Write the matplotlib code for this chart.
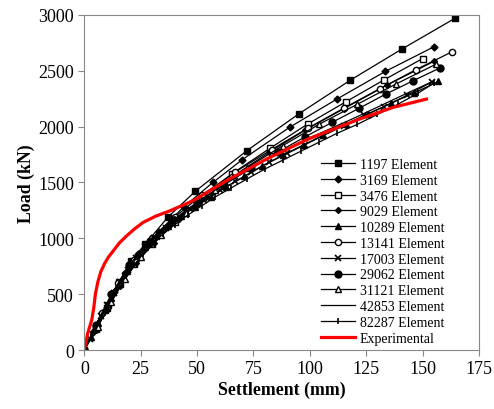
import matplotlib
matplotlib.use('Agg')
from matplotlib import pyplot as plt

plt.rcParams['font.family'] = ['Liberation Serif', 'DejaVu Serif']

# settlement (mm) / load (kN) for each mesh
x1197 = [0, 5, 10.6, 15.5, 20.7, 26.9, 37.2, 49.2, 72, 95, 118, 141, 164.5]
y1197 = [0, 200, 403, 611, 800, 946, 1193, 1421, 1784, 2113, 2417, 2697, 2972]

x3169 = [0, 4, 8, 13, 18, 24, 33, 44, 57, 70, 91, 112, 133.5, 155]
y3169 = [0, 160, 330, 520, 690, 860, 1060, 1280, 1500, 1704, 1994, 2247, 2495, 2715]

x3476 = [0, 5, 10, 16, 22, 30, 40, 52, 65.3, 82.3, 99, 116, 133, 150]
y3476 = [0, 190, 380, 590, 770, 950, 1150, 1360, 1576, 1806, 2023, 2223, 2420, 2610]

x9029 = [0, 5, 10, 16, 23, 31, 42, 54, 67, 82, 98, 115, 134, 155]
y9029 = [0, 180, 360, 570, 780, 960, 1170, 1370, 1570, 1770, 1970, 2160, 2370, 2585]

x10289 = [0, 3, 6, 9, 12, 15, 19, 23, 27, 32, 37, 43, 49, 56, 63, 71, 79, 88, 97, 106, 116, 126, 136, 146, 157]
y10289 = [0, 120, 240, 360, 470, 580, 710, 820, 920, 1020, 1110, 1200, 1280, 1370, 1460, 1555, 1650, 1745, 1835, 1925, 2020, 2115, 2210, 2300, 2405]

x13141 = [0, 8, 15, 22, 30, 40, 52, 67, 83, 99, 115, 131, 147, 163]
y13141 = [0, 330, 600, 810, 1000, 1190, 1385, 1595, 1795, 1985, 2165, 2340, 2510, 2670]

x17003 = [0, 2.5, 5, 7.5, 10, 13, 16, 19.5, 23, 27, 31, 36, 41, 47, 53, 60, 67, 74, 82, 90, 98, 106, 115, 124, 133, 143, 154]
y17003 = [0, 100, 200, 300, 400, 510, 610, 720, 820, 920, 1000, 1090, 1170, 1260, 1340, 1430, 1510, 1590, 1680, 1760, 1840, 1920, 2010, 2100, 2180, 2280, 2400]

x29062 = [0, 5, 12, 20, 29, 39, 50, 62, 74, 86, 98, 110, 121.8, 133.7, 145.8, 157.6]
y29062 = [0, 220, 500, 760, 980, 1160, 1320, 1480, 1630, 1775, 1910, 2040, 2164, 2292, 2411, 2525]

x31121 = [0, 6, 12, 18, 25, 34, 45, 58, 72, 88, 104, 121, 138, 156]
y31121 = [0, 210, 430, 640, 830, 1030, 1230, 1430, 1630, 1830, 2020, 2200, 2380, 2560]

x42853 = [0, 10, 20, 30, 45, 60, 80, 100, 120, 140, 155]
y42853 = [0, 410, 760, 1000, 1250, 1460, 1700, 1900, 2080, 2270, 2410]

x82287 = [0, 3, 6, 9, 12, 15, 18, 22, 26, 30, 35, 40, 46, 52, 58, 65, 72, 80, 88, 96, 104, 112, 121, 130, 139, 148, 155]
y82287 = [0, 120, 240, 350, 460, 560, 660, 760, 860, 950, 1040, 1120, 1210, 1290, 1370, 1450, 1530, 1620, 1700, 1780, 1860, 1940, 2020, 2110, 2200, 2300, 2390]

x_exp = [0, 1.5, 3.3, 4.2, 4.9, 6.0, 7.3, 9.0, 10.8, 12.9, 15.5, 18.8, 22.3, 26.1, 31.5, 38, 48.3, 63, 80.8, 99.2, 122, 137, 151.7]
y_exp = [0, 150, 270, 380, 500, 610, 700, 775, 835, 889, 958, 1023, 1085, 1143, 1197, 1247, 1337, 1516, 1710, 1889, 2068, 2173, 2247]

fig = plt.figure(figsize=(4.94, 4.10), dpi=100)
ax = fig.add_axes([0.1707, 0.1439, 0.7989, 0.8171])

lw = 0.9
ax.plot(x1197, y1197, 'k-', marker='s', ms=5, lw=lw, label='1197 Element')
ax.plot(x3169, y3169, 'k-', marker='D', ms=3.5, lw=lw, label='3169 Element')
ax.plot(x3476, y3476, 'k-', marker='s', ms=5, mfc='white', lw=lw, label='3476 Element')
ax.plot(x9029, y9029, 'k-', marker='D', ms=3, lw=lw, label='9029 Element')
ax.plot(x10289, y10289, 'k-', marker='^', ms=4.5, lw=lw, label='10289 Element')
ax.plot(x13141, y13141, 'k-', marker='o', ms=4.5, mfc='white', lw=lw, label='13141 Element')
ax.plot(x17003, y17003, 'k-', marker='x', ms=4, mew=1.2, lw=lw, label='17003 Element')
ax.plot(x29062, y29062, 'k-', marker='o', ms=5, lw=lw, label='29062 Element')
ax.plot(x31121, y31121, 'k-', marker='^', ms=4.5, mfc='white', lw=lw, label='31121 Element')
ax.plot(x42853, y42853, 'k-', lw=lw, label='42853 Element')
ax.plot(x82287, y82287, 'k-', marker='|', ms=5, mew=1.2, lw=lw, label='82287 Element')
ax.plot(x_exp, y_exp, '-', color='#ff0000', lw=2.3, label='Experimental')

ax.set_xlim(0, 175)
ax.set_ylim(0, 3000)
ax.set_xticks(range(0, 176, 25))
ax.set_yticks(range(0, 3001, 500))
ax.tick_params(labelsize=13, color='#888888', length=4, width=0.8, direction='out')
for s in ax.spines.values():
    s.set_color('#888888')
    s.set_linewidth(0.8)

ax.set_xlabel('Settlement (mm)', fontsize=12.8, fontweight='bold', labelpad=2)
ax.set_ylabel('Load (kN)', fontsize=12.8, fontweight='bold', labelpad=2)

ax.legend(loc='upper left', bbox_to_anchor=(321 / 494, 1 - 159 / 410),
          bbox_transform=fig.transFigure, frameon=False, fontsize=10,
          borderpad=0, borderaxespad=0, labelspacing=0.2,
          handlelength=2.45, handletextpad=0.36)

fig.savefig('out.png', dpi=100)
